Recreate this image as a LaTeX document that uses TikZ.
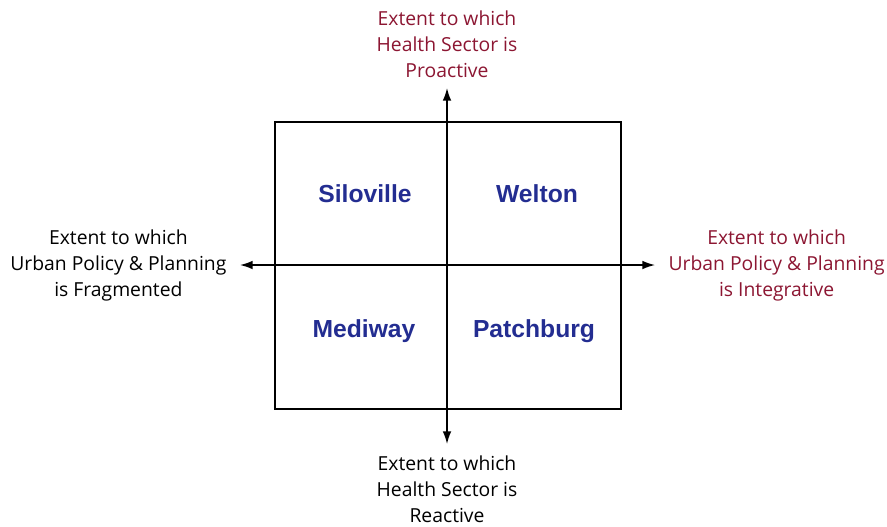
\documentclass[tikz,border=0pt]{standalone}
\usepackage{fontspec}
\setmainfont{Open Sans}
\newfontfamily\namefont{Liberation Sans}
\usetikzlibrary{arrows.meta,positioning}
\definecolor{axisred}{RGB}{140,22,50}
\definecolor{cityblue}{RGB}{35,45,145}
\tikzstyle{frame} = [draw, rectangle, line width=1.1pt, minimum width=259.5pt, minimum height=215pt, inner sep=0pt]
\tikzstyle{axis} = [draw, line width=1.1pt, <->]
\tikzstyle{city} = [text=cityblue, font=\namefont\fontsize{18.5}{22}\selectfont\bfseries]
\tikzstyle{label} = [align=center, inner sep=0pt, font=\fontsize{14.5}{19.5}\selectfont]

\begin{document}
\begin{tikzpicture}[x=0.75pt, y=-0.75pt, >={Latex[length=9.5pt,width=6.5pt]}]
    \useasboundingbox (0,0) rectangle (887,526);
    \node [frame] (grid) at (448,265.5) {};

    \coordinate (top) at (447,88);
    \coordinate (bot) at (447,444);
    \coordinate (lft) at (240,265);
    \coordinate (rgt) at (655,265);

    \draw [axis] (bot) -- (top);
    \draw [axis] (lft) -- (rgt);

    \node [city] (siloville) at (365,194) {Siloville};
    \node [city] (welton) at (537,194) {Welton};
    \node [city] (mediway) at (364,331) {Mediway};
    \node [city] (patchburg) at (534,331) {Patchburg};

    \node [label, text=axisred, above=7.5pt of top] (proactive) {Extent to which\\Health Sector is\\Proactive};
    \node [label, below=9pt of bot] (reactive) {Extent to which\\Health Sector is\\Reactive};
    \node [label, left=10pt of lft] (fragmented) {Extent to which\\Urban Policy \& Planning\\is Fragmented};
    \node [label, text=axisred, right=10pt of rgt] (integrative) {Extent to which\\Urban Policy \& Planning\\is Integrative};
\end{tikzpicture}
\end{document}
